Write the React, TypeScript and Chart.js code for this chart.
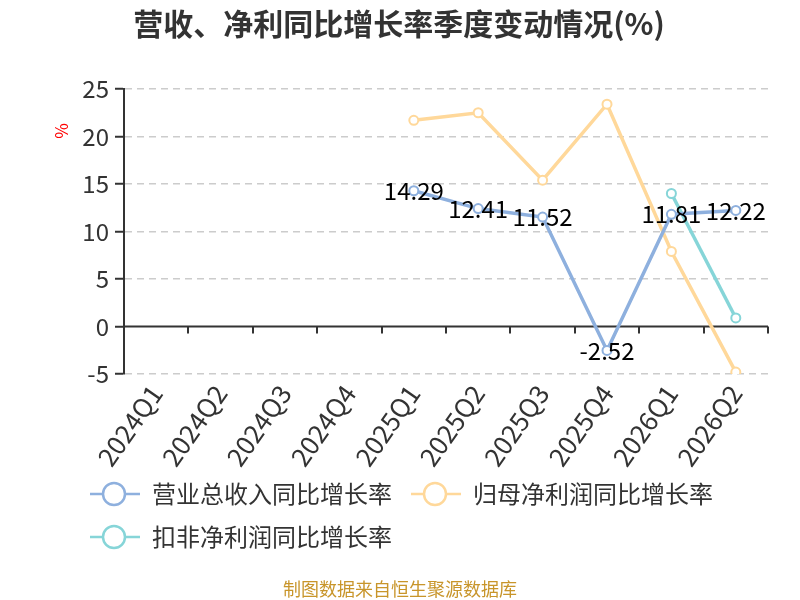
import React, { useEffect, useRef } from "react";
import { Chart, registerables } from "chart.js";

Chart.register(...registerables);

const categories = ["2024Q1", "2024Q2", "2024Q3", "2024Q4", "2025Q1", "2025Q2", "2025Q3", "2025Q4", "2026Q1", "2026Q2"];
const revenueGrowth = [null, null, null, null, 14.29, 12.41, 11.52, -2.52, 11.81, 12.22];
const netProfitGrowth = [null, null, null, null, 21.7, 22.5, 15.4, 23.4, 7.9, -4.8];
const deductedProfitGrowth = [null, null, null, null, null, null, null, null, 14.0, 0.9];
const seriesNames = ["营业总收入同比增长率", "归母净利润同比增长率", "扣非净利润同比增长率"];
const seriesColors = ["#8eb0de", "#ffd89a", "#86d5d8"];
const yTicks = { min: -5, max: 25, step: 5 };
const titleText = "营收、净利同比增长率季度变动情况(%)";
const unitText = "%";
const footerText = "制图数据来自恒生聚源数据库";

const FONT = "'Noto Sans CJK SC', 'Noto Sans', sans-serif";

const decorPlugin = {
  id: "decor",
  beforeDatasetsDraw(chart: any) {
    const { ctx, chartArea, scales } = chart;
    const y0 = scales.y.getPixelForValue(0);
    const n = categories.length;
    const w = (chartArea.right - chartArea.left) / n;
    ctx.save();
    ctx.strokeStyle = "#333";
    ctx.lineWidth = 2;
    ctx.beginPath();
    ctx.moveTo(chartArea.left, y0);
    ctx.lineTo(chartArea.right, y0);
    ctx.stroke();
    for (let i = 1; i <= n; i++) {
      const x = Math.round(chartArea.left + i * w);
      ctx.beginPath();
      ctx.moveTo(x, y0);
      ctx.lineTo(x, y0 + 7);
      ctx.stroke();
    }
    ctx.restore();
  },
  afterDraw(chart: any) {
    const { ctx } = chart;
    ctx.save();
    // data labels for first series
    const meta = chart.getDatasetMeta(0);
    ctx.font = `24px ${FONT}`;
    ctx.fillStyle = "#000";
    ctx.textAlign = "center";
    ctx.textBaseline = "middle";
    meta.data.forEach((pt: any, i: number) => {
      const v = revenueGrowth[i];
      if (v === null || v === undefined) return;
      ctx.fillText(v.toFixed(2), pt.x, pt.y);
    });

    // title
    ctx.font = `bold 30px ${FONT}`;
    ctx.fillStyle = "#333";
    ctx.fillText(titleText, 399, 24);

    // unit
    ctx.save();
    ctx.translate(62, 131);
    ctx.rotate(-Math.PI / 2);
    ctx.font = `17px ${FONT}`;
    ctx.fillStyle = "#ff0000";
    ctx.fillText(unitText, 0, 0);
    ctx.restore();

    // legend
    const items = [
      { x: 90, y: 494, tx: 152 },
      { x: 411, y: 494, tx: 473 },
      { x: 90, y: 537, tx: 152 },
    ];
    items.forEach((it, i) => {
      ctx.strokeStyle = seriesColors[i];
      ctx.lineWidth = 2.5;
      ctx.beginPath();
      ctx.moveTo(it.x, it.y);
      ctx.lineTo(it.x + 50, it.y);
      ctx.stroke();
      ctx.beginPath();
      ctx.arc(it.x + 24, it.y, 11, 0, Math.PI * 2);
      ctx.fillStyle = "#fff";
      ctx.fill();
      ctx.stroke();
      ctx.font = `24px ${FONT}`;
      ctx.fillStyle = "#333";
      ctx.textAlign = "left";
      ctx.fillText(seriesNames[i], it.tx, it.y);
    });

    // footer
    ctx.font = `18px ${FONT}`;
    ctx.fillStyle = "#c8952a";
    ctx.textAlign = "center";
    ctx.fillText(footerText, 400, 589);
    ctx.restore();
  },
};

export default function App() {
  const ref = useRef<HTMLCanvasElement | null>(null);
  useEffect(() => {
    if (!ref.current) return;
    const mk = (data: (number | null)[], i: number) => ({
      label: seriesNames[i],
      data,
      borderColor: seriesColors[i],
      backgroundColor: "#fff",
      pointBackgroundColor: "#fff",
      pointBorderColor: seriesColors[i],
      pointBorderWidth: 2,
      pointRadius: 4.5,
      borderWidth: 3.5,
      tension: 0,
      spanGaps: false,
    });
    const chart = new Chart(ref.current, {
      type: "line",
      data: {
        labels: categories,
        datasets: [mk(revenueGrowth, 0), mk(netProfitGrowth, 1), mk(deductedProfitGrowth, 2)],
      },
      options: {
        animation: false,
        responsive: false,
        devicePixelRatio: 1,
        layout: { padding: { top: 89, right: 32, left: 0, bottom: 0 } },
        plugins: { legend: { display: false }, title: { display: false }, tooltip: { enabled: false } },
        scales: {
          x: {
            type: "category",
            offset: true,
            grid: { display: false, offset: true },
            border: { display: false },
            ticks: {
              font: { family: FONT, size: 26 },
              color: "#333",
              maxRotation: 55,
              minRotation: 55,
              padding: -3,
              autoSkip: false,
            },
            afterFit: (s: any) => {
              s.height = 226;
            },
          },
          y: {
            min: yTicks.min,
            max: yTicks.max,
            ticks: {
              stepSize: yTicks.step,
              font: { family: FONT, size: 24 },
              color: "#333",
              padding: 6,
            },
            grid: {
              color: (c: any) => (c.tick && c.tick.value === 0 ? "rgba(0,0,0,0)" : "#cccccc"),
              lineWidth: 1.5,
              tickColor: "#333",
              tickLength: 9,
              tickWidth: 2,
            },
            border: { display: true, color: "#333", width: 2, dash: [7, 5] },
            afterFit: (s: any) => {
              s.width = 124;
            },
          },
        },
      } as any,
      plugins: [decorPlugin],
    });
    return () => chart.destroy();
  }, []);
  return (
    <div style={{ position: "fixed", left: 0, top: 0, width: 800, height: 600, background: "#fff" }}>
      <canvas ref={ref} width={800} height={600} style={{ width: 800, height: 600 }} />
    </div>
  );
}
